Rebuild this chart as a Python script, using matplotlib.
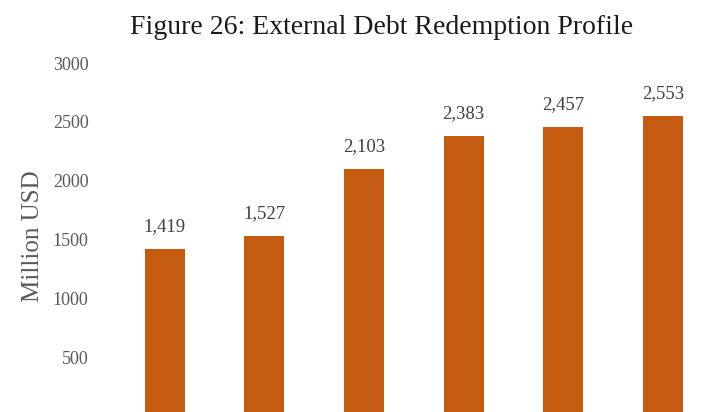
import matplotlib.pyplot as plt
import numpy as np

years = ['2024', '2025', '2026', '2027', '2028', '2029']
values = [1419, 1527, 2103, 2383, 2457, 2553]
yticks = [500, 1000, 1500, 2000, 2500, 3000]

plt.rcParams['font.family'] = ['Liberation Serif', 'DejaVu Serif']

fig = plt.figure(figsize=(7.05, 4.12), dpi=100)
# axes extends to the bottom edge, the chart is cropped there
ax = fig.add_axes([115 / 705, 0, (705 - 115) / 705, (412 - 60) / 412])

x = np.arange(len(values))
ax.bar(x, values, width=0.40, color='#C55A11')
for xi, v in zip(x, values):
    ax.text(xi, v + 190, f'{v:,}', ha='center', va='center', fontsize=13.5, color='#404040')

ax.set_xlim(-0.5, -0.5 + 590 / 99.6)
ax.set_ylim(34, 3026)
ax.set_yticks(yticks)
ax.set_yticklabels([str(t) for t in yticks], fontsize=13, color='#595959')
ax.set_xticks([])
ax.tick_params(axis='y', length=0, pad=19)
for s in ax.spines.values():
    s.set_visible(False)

ax.set_ylabel('Million USD', fontsize=18, color='#595959', labelpad=6)
fig.text(382 / 705, 1 - 27 / 412, 'Figure 26: External Debt Redemption Profile',
         ha='center', va='center', fontsize=20, color='#1a1a1a')

fig.savefig('out.png', dpi=100)
